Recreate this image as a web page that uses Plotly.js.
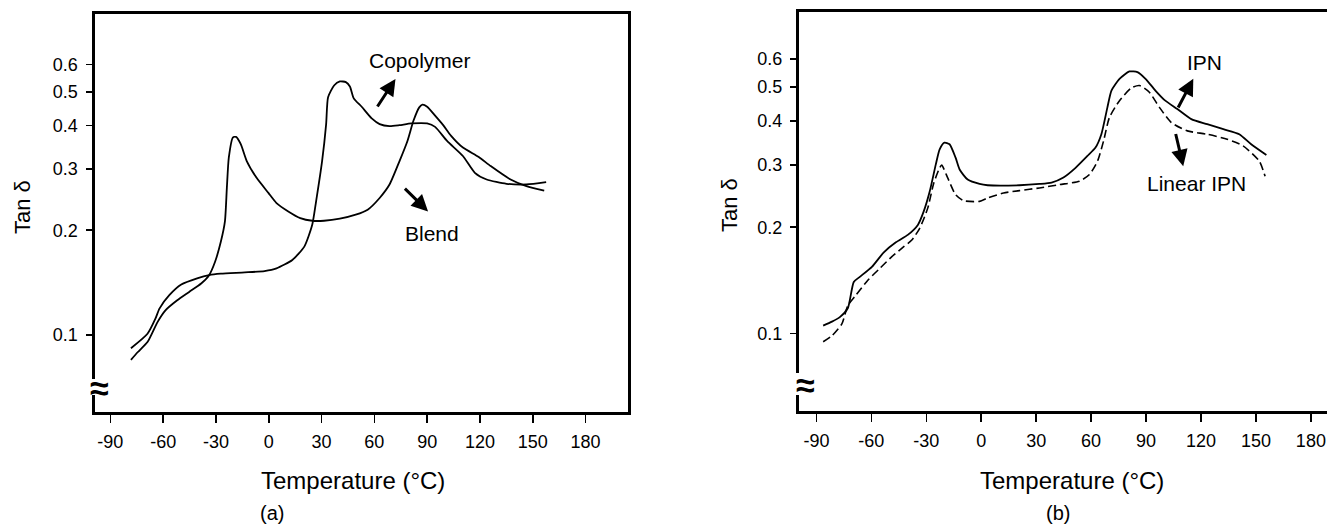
<!DOCTYPE html>
<html>
<head>
<meta charset="utf-8">
<script src="https://cdn.plot.ly/plotly-3.0.1.min.js"></script>
<style>html,body{margin:0;padding:0;background:#fff;}#chart{width:1327px;height:526px;}</style>
</head>
<body>
<div id="chart"></div>
<script>
// ---- Data ----
// Panel (a)
var tempCopolymer = [-78.3,-68.9,-64.4,-62.1,-56.5,-49.7,-40.7,-33.9,-27.2,-13.6,-2.4,4.4,13.4,20.2,24.7,26.9,30.3,32.6,33.7,37.1,40.4,43.8,46.1,48.3,52.8,58.5,63.0,68.6,74.3,81.0,90.0,94.5,101.3,110.3,117.1,123.8,135.1,146.4,157.6];
var tanCopolymer = [0.0915,0.1007,0.1113,0.119,0.130,0.1395,0.1453,0.1485,0.1499,0.1512,0.1526,0.1553,0.1642,0.1794,0.2073,0.2422,0.316,0.404,0.4826,0.5216,0.5357,0.5333,0.518,0.479,0.453,0.4195,0.404,0.3984,0.401,0.4056,0.4056,0.3966,0.3613,0.327,0.2925,0.2798,0.272,0.2707,0.2749];

var tempBlend = [-78.3,-74.5,-68.9,-63.2,-58.7,-52.0,-45.2,-38.4,-33.9,-30.5,-27.2,-24.9,-23.8,-22.7,-20.4,-18.6,-15.9,-12.5,-6.9,-0.2,4.4,11.1,17.9,24.7,31.4,40.4,49.4,56.2,63.0,68.6,74.3,78.8,82.2,85.5,87.3,90.0,94.5,99.1,103.6,110.3,119.3,126.1,137.4,146.4,156.5];
var tanBlend = [0.0847,0.0891,0.0953,0.1088,0.1176,0.1257,0.1329,0.1405,0.1485,0.1623,0.1855,0.212,0.2648,0.3233,0.3695,0.371,0.3535,0.3162,0.2829,0.256,0.2394,0.2265,0.2167,0.2129,0.2129,0.2158,0.2216,0.2291,0.2476,0.2706,0.3162,0.3613,0.4128,0.4512,0.4593,0.4531,0.4270,0.401,0.3737,0.3457,0.3248,0.3058,0.2798,0.2677,0.26];

// Panel (b)
var tempIPN = [-86.3,-81.5,-77.2,-72.8,-69.6,-66.3,-59.7,-53.2,-46.6,-40.1,-34.6,-31.4,-28.1,-24.8,-22.7,-20.1,-17.3,-14.0,-11.8,-7.4,-0.9,3.5,20.9,31.8,38.4,44.9,51.5,58.0,62.4,65.6,68.9,71.1,75.5,80.9,85.3,89.7,95.1,100.5,107.1,114.7,123.4,132.2,140.9,147.4,155.7];
var tanIPN = [0.1052,0.108,0.1112,0.118,0.1399,0.1446,0.1544,0.1697,0.1812,0.1902,0.203,0.2217,0.2528,0.3013,0.3324,0.3472,0.3436,0.3148,0.2914,0.2729,0.2652,0.263,0.263,0.2652,0.2676,0.2766,0.2946,0.3183,0.3362,0.3668,0.4372,0.488,0.5267,0.5526,0.5502,0.5267,0.488,0.4567,0.4324,0.4049,0.3918,0.3791,0.3668,0.3436,0.3203];

var tempLinearIPN = [-86.3,-81.5,-76.1,-72.8,-68.5,-61.9,-55.4,-48.8,-42.3,-37.9,-33.6,-29.2,-25.9,-22.7,-21.6,-18.3,-14.0,-9.6,-0.9,3.5,12.2,20.9,31.8,42.8,53.6,59.1,63.5,66.8,70.0,75.5,82.0,86.4,91.8,97.3,103.8,112.5,123.4,134.3,143.0,151.8,155.0];
var tanLinearIPN = [0.0947,0.0985,0.1064,0.12,0.1282,0.1415,0.1528,0.165,0.1761,0.184,0.1986,0.2265,0.2669,0.2946,0.2999,0.2759,0.2473,0.2377,0.2367,0.2419,0.25,0.2539,0.2584,0.2641,0.27,0.2821,0.3079,0.3512,0.4094,0.4567,0.4966,0.5043,0.4826,0.4372,0.396,0.375,0.3668,0.355,0.34,0.3079,0.279];

// Tick labels
var xTickVals = [-90,-60,-30,0,30,60,90,120,150,180];
var xTickText = ["-90","-60","-30","0","30","60","90","120","150","180"];
var yTickVals = [0.1,0.2,0.3,0.4,0.5,0.6];
var yTickText = ["0.1","0.2","0.3","0.4","0.5","0.6"];

// Label texts
var xTitle = "Temperature (°C)";
var yTitle = "Tan δ";

// ---- Figure ----
var FONT = "Arial, 'Liberation Sans', Helvetica, sans-serif";
var lineStyle = {color:"#000", width:1.8, shape:"spline", smoothing:0.6};

var traces = [
  {x: tempCopolymer, y: tanCopolymer, xaxis:"x", yaxis:"y", mode:"lines", name:"Copolymer", line: lineStyle},
  {x: tempBlend, y: tanBlend, xaxis:"x", yaxis:"y", mode:"lines", name:"Blend", line: lineStyle},
  {x: tempIPN, y: tanIPN, xaxis:"x2", yaxis:"y2", mode:"lines", name:"IPN", line: lineStyle},
  {x: tempLinearIPN, y: tanLinearIPN, xaxis:"x2", yaxis:"y2", mode:"lines", name:"Linear IPN",
   line: {color:"#000", width:1.6, shape:"spline", smoothing:0.6, dash:"8px,4px"}}
];

function xAx(domain, range, anchor){
  return {domain: domain, range: range, anchor: anchor, tickmode:"array", tickvals: xTickVals, ticktext: xTickText,
    ticks:"outside", ticklen:8, tickwidth:1.5, tickcolor:"#000", showline:true, linewidth:3, linecolor:"#000",
    mirror:true, showgrid:false, zeroline:false, ticklabelstandoff:3,
    tickfont:{family:FONT, size:18, color:"#000"}, fixedrange:true};
}
function yAx(domain, range, anchor, mirror){
  return {domain: domain, range: range, anchor: anchor, type:"log", tickmode:"array", tickvals: yTickVals, ticktext: yTickText,
    ticks:"outside", ticklen:6, tickwidth:1.5, tickcolor:"#000", showline:true, linewidth:3, linecolor:"#000",
    mirror:mirror, showgrid:false, zeroline:false, ticklabelstandoff:4,
    tickfont:{family:FONT, size:18, color:"#000"}, fixedrange:true};
}

var L = Math.log10;
function arrow(xref, yref, xh, yh, xt, yt){
  return {xref:xref, yref:yref, axref:xref, ayref:yref, x:xh, y:L(yh), ax:xt, ay:L(yt), text:"",
    showarrow:true, arrowhead:2, arrowsize:1.1, arrowwidth:3, arrowcolor:"#000", standoff:0, startstandoff:0};
}
function label(xref, yref, x, y, txt, size){
  return {xref:xref, yref:yref, x:x, y:L(y), text:txt, showarrow:false,
    font:{family:FONT, size:size, color:"#000"}, xanchor:"center", yanchor:"middle"};
}
function paperText(xref, x, y, txt, size, angle){
  return {xref:xref, yref:"paper", x:x, y:y, text:txt, showarrow:false, textangle:angle||0,
    xanchor:"center", yanchor:"middle", font:{family:FONT, size:size, color:"#000"}};
}

var annotations = [
  // panel (a)
  label("x","y",86,0.616,"Copolymer",21),
  label("x","y",92.7,0.1952,"Blend",21),
  arrow("x","y",72.0,0.5449,61.2,0.4493),
  arrow("x","y",90.5,0.2265,76.5,0.2659),
  // panel (b)
  label("x2","y2",121.7,0.5877,"IPN",21),
  label("x2","y2",117.3,0.2652,"Linear IPN",21),
  arrow("x2","y2",115.8,0.5267,107.1,0.4324),
  arrow("x2","y2",110.3,0.2979,106.0,0.371),
  // axis titles
  paperText("paper", 22/1327, (526-207)/526, yTitle, 22, -90),
  paperText("paper", 730/1327, (526-205)/526, yTitle, 22, -90),
  paperText("x", 48, (526-480)/526, xTitle, 24),
  paperText("x2", 49.5, (526-480)/526, xTitle, 24),
  paperText("x", 2, (526-513)/526, "(a)", 20),
  paperText("x2", 42, (526-513)/526, "(b)", 20),
  // axis break symbols
  paperText("paper", 99/1327, (526-388)/526, "<b>≈</b>", 34),
  paperText("paper", 805/1327, (526-385)/526, "<b>≈</b>", 34)
];

var shapes = [
  {type:"rect", xref:"paper", yref:"paper", x0:88/1327, x1:101/1327, y0:(526-395)/526, y1:(526-379)/526, fillcolor:"#fff", line:{width:0}, layer:"above"},
  {type:"rect", xref:"paper", yref:"paper", x0:793/1327, x1:806/1327, y0:(526-395)/526, y1:(526-373)/526, fillcolor:"#fff", line:{width:0}, layer:"above"}
];

var layout = {
  width:1327, height:526, margin:{l:0,r:0,t:0,b:0}, paper_bgcolor:"#fff", plot_bgcolor:"#fff",
  showlegend:false,
  xaxis: xAx([94.5/1327, 628/1327], [-99.0, 204.1], "y"),
  yaxis: yAx([(526-412)/526, (526-14)/526], [-1.222, -0.077], "x", true),
  xaxis2: xAx([799/1327, 1], [-99.5, 188.8], "y2"),
  yaxis2: yAx([(526-411)/526, (526-12)/526], [-1.22, -0.089], "x2", false),
  annotations: annotations,
  shapes: shapes
};

Plotly.newPlot("chart", traces, layout, {displayModeBar:false, staticPlot:true});
</script>
</body>
</html>
